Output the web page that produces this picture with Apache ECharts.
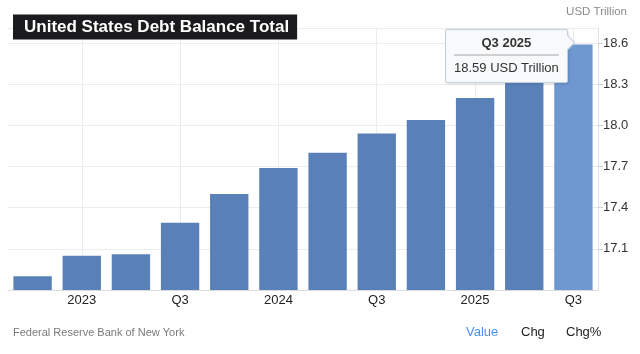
<!DOCTYPE html>
<html><head><meta charset="utf-8">
<script src="https://cdn.jsdelivr.net/npm/echarts@6/dist/echarts.min.js"></script>
<style>html,body{margin:0;padding:0;background:#fff}#c{width:640px;height:354px}</style>
</head><body><div id="c"></div>
<script>
const categories = ['Q4 2022','Q1 2023','Q2 2023','Q3 2023','Q4 2023','Q1 2024','Q2 2024','Q3 2024','Q4 2024','Q1 2025','Q2 2025','Q3 2025'];
const values = [16.90, 17.05, 17.06, 17.29, 17.50, 17.69, 17.80, 17.94, 18.04, 18.20, 18.39, 18.59];
const xTickLabels = ['', '2023', '', 'Q3', '', '2024', '', 'Q3', '', '2025', '', 'Q3'];
const yMin = 16.8, yMax = 18.71, yInterval = 0.3;
const unit = 'USD Trillion';
const FONT = '"Liberation Sans", Arial, Helvetica, sans-serif';
const chart = echarts.init(document.getElementById('c'), null, {renderer:'canvas'});
const last = values.length - 1;
chart.setOption({
  animation: false,
  textStyle: {fontFamily: FONT},
  title: [{
    text: 'United States Debt Balance Total', left: 13, top: 15,
    backgroundColor: '#1b1b1d', padding: [4, 8, 4, 11],
    textStyle: {color: '#fff', fontSize: 17, fontWeight: 'bold', fontFamily: FONT, lineHeight: 16}
  },{
    text: unit, right: 13, top: 6, padding: 0,
    textStyle: {color: '#8a8a8a', fontSize: 11.5, fontWeight: 'normal', fontFamily: FONT}
  },{
    text: 'Federal Reserve Bank of New York', left: 13, top: 327, padding: 0,
    textStyle: {color: '#7a7a7a', fontSize: 11, fontWeight: 'normal', fontFamily: FONT}
  },{
    text: 'Value', left: 466, top: 326, padding: 0,
    textStyle: {color: '#4a8ef0', fontSize: 13, fontWeight: 'normal', fontFamily: FONT}
  },{
    text: 'Chg', left: 521, top: 326, padding: 0,
    textStyle: {color: '#222', fontSize: 13, fontWeight: 'normal', fontFamily: FONT}
  },{
    text: 'Chg%', left: 566, top: 326, padding: 0,
    textStyle: {color: '#222', fontSize: 13, fontWeight: 'normal', fontFamily: FONT}
  }],
  grid: {left: 8, right: 42, top: 28, bottom: 64},
  tooltip: {
    trigger: 'item', triggerOn: 'none', alwaysShowContent: true,
    padding: 0, backgroundColor: 'transparent', borderWidth: 0,
    extraCssText: 'box-shadow:none;',
    position: function (point, params, dom, rect, size) {
      const p = chart.convertToPixel({seriesIndex: 0}, [params.dataIndex, params.value]);
      return [p[0] - 5 - size.contentSize[0], p[1] - 15];
    },
    formatter: function (p) {
      return '<div style="position:relative;background:#f7f9fb;border:1px solid #c3cfdc;border-radius:2px;padding:5px 8px 6px 8px;font-family:' + FONT.replace(/"/g, "'") + ';color:#333;font-size:13px;line-height:16px;box-shadow:1px 1px 3px rgba(0,0,0,0.12)">' +
        '<div style="text-align:center;font-weight:bold;padding-bottom:3px;border-bottom:2px solid #cfcfcf;margin-bottom:4px">' + p.name + '</div>' +
        '<div>' + p.value.toFixed(2) + ' ' + unit + '</div>' +
        '<div style="position:absolute;right:-6px;top:7px;width:10px;height:10px;background:#f7f9fb;border-top:1px solid #c3cfdc;border-right:1px solid #c3cfdc;transform:rotate(45deg)"></div>' +
        '</div>';
    }
  },
  xAxis: {
    type: 'category', data: categories,
    axisLine: {lineStyle: {color: '#dcdcdc'}},
    axisTick: {show: false},
    axisLabel: {
      interval: 0, color: '#222', fontSize: 13, margin: 4,
      formatter: function (v, i) { return xTickLabels[i]; }
    },
    splitLine: {show: true, alignWithLabel: true, interval: function (i) { return i % 2 === 1; }, lineStyle: {color: '#ececec'}}
  },
  yAxis: {
    type: 'value', position: 'right', min: yMin, max: yMax, interval: yInterval,
    axisLine: {show: true, lineStyle: {color: '#e2e2e2'}},
    axisTick: {show: true, length: 5, lineStyle: {color: '#cfcfcf'}},
    axisLabel: {color: '#333', fontSize: 13, margin: 5, showMinLabel: false, showMaxLabel: false,
      formatter: function (v) { return v.toFixed(1); }},
    splitLine: {show: true, lineStyle: {color: '#ececec'}}
  },
  series: [{
    type: 'bar', barCategoryGap: '22%',
    data: values.map(function (v, i) {
      return i === last ? {value: v, itemStyle: {color: '#6f98d0'}} : v;
    }),
    itemStyle: {color: '#5a80b8'}
  }]
});
chart.dispatchAction({type: 'showTip', seriesIndex: 0, dataIndex: last});
</script></body></html>
